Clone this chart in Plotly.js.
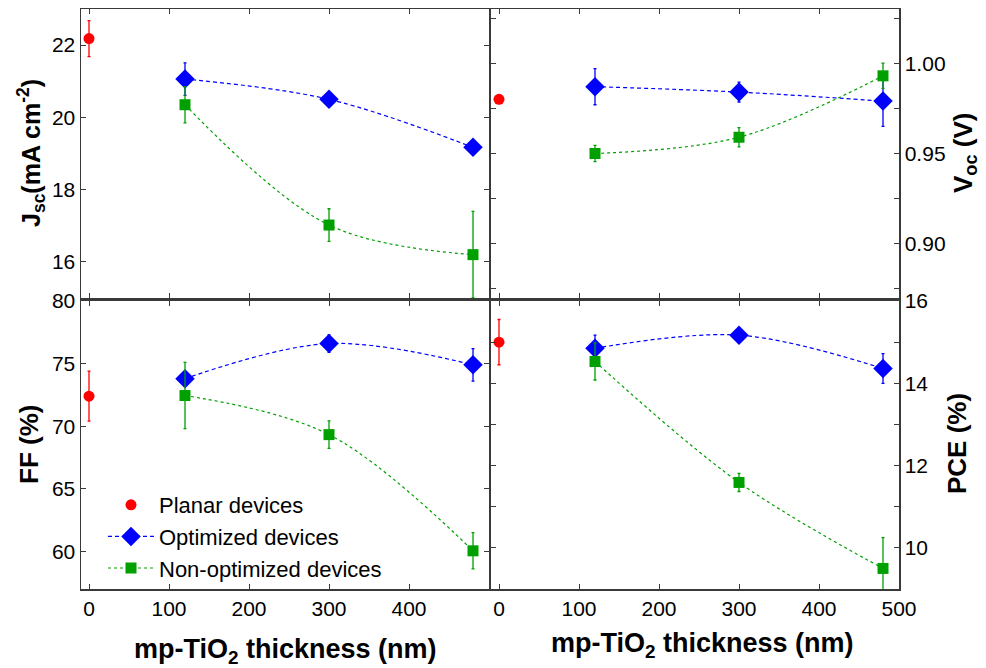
<!DOCTYPE html>
<html>
<head>
<meta charset="utf-8">
<script src="https://cdn.plot.ly/plotly-3.0.1.min.js"></script>
<style>
  html, body { margin: 0; padding: 0; background: #ffffff; }
  #chart { width: 986px; height: 668px; }
</style>
</head>
<body>
<div id="chart"></div>
<script>
// mp-TiO2 thickness (nm) for the mesoporous devices; planar devices sit at 0
const thickness = [120, 300, 480];
const planarX = [0];

// Short-circuit current density (mA cm^-2)
const jscPlanar = [22.18];
const jscPlanarErr = [0.5];
const jscOpt = [21.06, 20.5, 19.17];
const jscOptErr = [0.45, 0.05, 0.05];
const jscNon = [20.35, 17.02, 16.2];
const jscNonErr = [0.5, 0.45, 1.2];

// Open-circuit voltage (V)
const vocPlanar = [0.980];
const vocPlanarErr = [0];
const vocOpt = [0.987, 0.984, 0.979];
const vocOptErr = [0.010, 0.0055, 0.014];
const vocNon = [0.950, 0.959, 0.993];
const vocNonErr = [0.0045, 0.0053, 0.007];

// Fill factor (%)
const ffPlanar = [72.4];
const ffPlanarErr = [2.0];
const ffOpt = [73.8, 76.6, 74.9];
const ffOptErr = [0.5, 0.7, 1.3];
const ffNon = [72.45, 69.33, 60.05];
const ffNonErr = [2.65, 1.1, 1.45];

// Power conversion efficiency (%)
const pcePlanar = [15.0];
const pcePlanarErr = [0.55];
const pceOpt = [14.85, 15.17, 14.36];
const pceOptErr = [0.32, 0.05, 0.36];
const pceNon = [14.53, 11.59, 9.5];
const pceNonErr = [0.45, 0.22, 0.75];

const seriesNames = ['Planar devices', 'Optimized devices', 'Non-optimized devices'];
const xTicks = [0, 100, 200, 300, 400, 500];

const FONT = 'Arial, "Liberation Sans", sans-serif';
const RED = '#ff0000', BLUE = '#0000ff', GREEN = '#00a000';
const AXIS = '#3a3a3a';

function errs(arr, color) {
  return { type: 'data', array: arr, visible: true, color: color, thickness: 1.3, width: 1.5 };
}

function panelTraces(xa, ya, planar, planarErr, opt, optErr, non, nonErr, legend) {
  return [
    {
      x: planarX, y: planar, xaxis: xa, yaxis: ya, mode: 'markers', name: seriesNames[0],
      marker: { symbol: 'circle', size: 11, color: RED },
      error_y: errs(planarErr, RED), showlegend: legend
    },
    {
      x: thickness, y: opt, xaxis: xa, yaxis: ya, mode: 'lines+markers', name: seriesNames[1],
      line: { shape: 'spline', smoothing: 1, color: BLUE, width: 1.2, dash: '4px,3px' },
      marker: { symbol: 'diamond', size: 15, color: BLUE },
      error_y: errs(optErr, BLUE), showlegend: legend
    },
    {
      x: thickness, y: non, xaxis: xa, yaxis: ya, mode: 'lines+markers', name: seriesNames[2],
      line: { shape: 'spline', smoothing: 1, color: GREEN, width: 1.2, dash: '3px,3px' },
      marker: { symbol: 'square', size: 11, color: GREEN },
      error_y: errs(nonErr, GREEN), showlegend: legend
    }
  ];
}

const data = [].concat(
  panelTraces('x', 'y', jscPlanar, jscPlanarErr, jscOpt, jscOptErr, jscNon, jscNonErr, false),
  panelTraces('x2', 'y2', vocPlanar, vocPlanarErr, vocOpt, vocOptErr, vocNon, vocNonErr, false),
  panelTraces('x3', 'y3', ffPlanar, ffPlanarErr, ffOpt, ffOptErr, ffNon, ffNonErr, true),
  panelTraces('x4', 'y4', pcePlanar, pcePlanarErr, pceOpt, pceOptErr, pceNon, pceNonErr, false)
);

const W = 986, H = 668;
const px = v => v / W;
const py = v => 1 - v / H;

const colLeft = [px(81), px(489)];
const colRight = [px(491), px(899)];
const rowTop = [py(298), py(9)];
const rowBottom = [py(589), py(301)];

function xAxis(domain, anchor, tickvals, labels) {
  return {
    domain: domain, anchor: anchor, range: [-10, 500],
    tickvals: tickvals, showticklabels: labels,
    ticks: 'inside', ticklen: 5, tickwidth: 1, tickcolor: AXIS,
    showline: true, linecolor: AXIS, linewidth: 1.5, mirror: 'allticks',
    showgrid: false, zeroline: false,
    tickfont: { family: FONT, size: 21, color: '#000' }
  };
}

function yAxis(domain, anchor, range, tickvals, side, minor, fmt) {
  const ax = {
    domain: domain, anchor: anchor, range: range, side: side,
    tickvals: tickvals,
    ticks: 'inside', ticklen: 5, tickwidth: 1, tickcolor: AXIS,
    showline: true, linecolor: AXIS, linewidth: 1.5, mirror: 'allticks',
    showgrid: false, zeroline: false,
    tickfont: { family: FONT, size: 21, color: '#000' }
  };
  if (fmt) ax.tickformat = fmt;
  if (minor) {
    ax.minor = { dtick: minor, ticks: 'inside', ticklen: 5, tickwidth: 1, tickcolor: AXIS, showgrid: false };
  }
  return ax;
}

function title(text, x, y, angle, size) {
  return {
    text: text, xref: 'paper', yref: 'paper', x: px(x), y: py(y),
    xanchor: 'center', yanchor: 'middle', showarrow: false, textangle: angle,
    font: { family: FONT, size: size, color: '#000', weight: 'bold' }
  };
}

const layout = {
  width: W, height: H,
  margin: { l: 0, r: 0, t: 0, b: 0 },
  paper_bgcolor: '#ffffff', plot_bgcolor: '#ffffff',
  font: { family: FONT, color: '#000' },
  xaxis: xAxis(colLeft, 'y', xTicks, false),
  yaxis: yAxis(rowTop, 'x', [15, 23], [16, 18, 20, 22], 'left'),
  xaxis2: xAxis(colRight, 'y2', xTicks, false),
  yaxis2: yAxis(rowTop, 'x2', [0.87, 1.03], [0.90, 0.95, 1.00], 'right', 0.025, '.2f'),
  xaxis3: xAxis(colLeft, 'y3', [0, 100, 200, 300, 400], true),
  yaxis3: yAxis(rowBottom, 'x3', [57, 80], [60, 65, 70, 75, 80], 'left'),
  xaxis4: xAxis(colRight, 'y4', xTicks, true),
  yaxis4: yAxis(rowBottom, 'x4', [9, 16], [10, 12, 14, 16], 'right', 1),
  showlegend: true,
  legend: {
    x: px(103), y: py(484), xanchor: 'left', yanchor: 'top',
    bgcolor: 'rgba(0,0,0,0)', borderwidth: 0,
    font: { family: FONT, size: 22, color: '#000' },
    tracegroupgap: 0, itemwidth: 46
  },
  annotations: [
    title('J<sub>sc</sub>(mA cm<sup>-2</sup>)', 31, 153, -90, 25),
    title('V<sub>oc</sub> (V)', 964, 153, -90, 26),
    title('FF (%)', 29, 445, -90, 26),
    title('PCE (%)', 957, 444, -90, 26),
    title('mp-TiO<sub>2</sub> thickness (nm)', 285, 651, 0, 27),
    title('mp-TiO<sub>2</sub> thickness (nm)', 702, 645, 0, 27)
  ]
};

Plotly.newPlot('chart', data, layout, { displayModeBar: false, staticPlot: true });
</script>
</body>
</html>
